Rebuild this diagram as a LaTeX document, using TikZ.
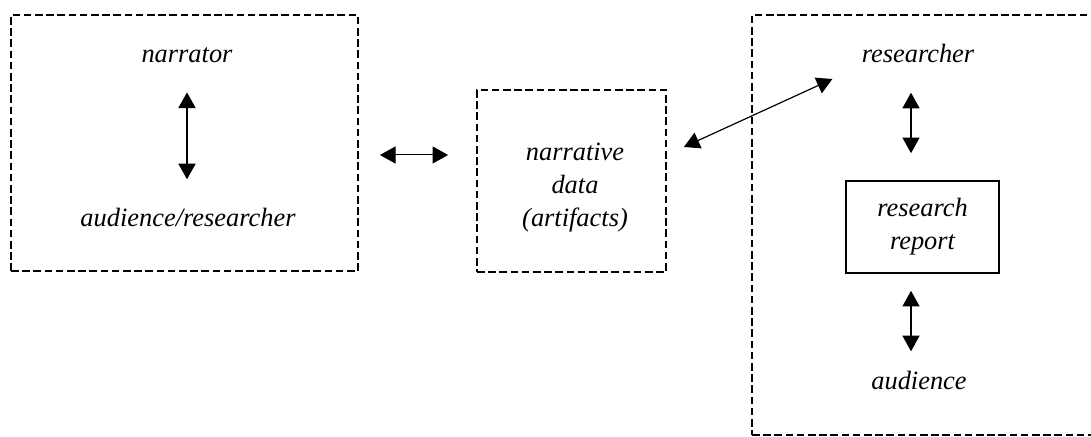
\documentclass[tikz,border=0pt]{standalone}
\usepackage{fontspec}
\setmainfont{Liberation Serif}
\usetikzlibrary{arrows.meta}

\begin{document}
\begin{tikzpicture}[
    x=0.5pt, y=-0.5pt,
    grp/.style={draw, dash pattern=on 3.8pt off 1.8pt, line width=0.9pt, inner sep=0pt},
    lbl/.style={font=\fontsize{13.2}{16.5}\selectfont\itshape, align=center, inner sep=0pt},
    rep/.style={draw, line width=0.8pt, inner sep=0pt, minimum width=76.5pt, minimum height=46pt},
    arr/.style={{Triangle[length=7.8pt,width=8.5pt]}-{Triangle[length=7.8pt,width=8.5pt]}, line width=0.6pt},
]
\useasboundingbox (0,0) rectangle (1091,437);
\clip (0,0) rectangle (1091,437);

% Dashed groups
\node[grp, minimum width=173.5pt, minimum height=128pt] (story) at (184.5,143) {};
\node[grp, minimum width=94.5pt, minimum height=91pt] (artbox) at (571.5,181) {};
\node[grp, minimum width=200pt, minimum height=210pt, anchor=west] (study) at (751,225) {};

% Labels
\node[lbl] (narrator) at (187,55) {narrator};
\node[lbl] (audres) at (188,218) {audience/researcher};
\node[lbl] (data) at (575,188) {narrative\\data\\(artifacts)};
\node[lbl] (researcher) at (918,53) {researcher};
\node[rep, lbl] (report) at (922.5,227) {research\\report};
\node[lbl] (audience) at (919,380) {audience};

% Two-way arrows
\draw[arr, line width=1pt, shorten <=14.75pt, shorten >=14.5pt] (narrator.south) -- ([xshift=-0.5pt]audres.north);
\draw[arr, line width=0.5pt, shorten <=10.5pt, shorten >=14pt] ([yshift=-6pt]story.east) -- ([yshift=13pt]artbox.west);
\draw[arr] ([xshift=8.5pt,yshift=17pt]artbox.east) -- ([xshift=-14.5pt,yshift=-13pt]researcher.west);
\draw[arr, shorten <=15pt, shorten >=13.5pt] ([xshift=-3.5pt]researcher.south) -- ([xshift=-5.75pt]report.north);
\draw[arr, shorten <=8.5pt, shorten >=9.5pt] ([xshift=-5.75pt]report.south) -- ([xshift=-4pt]audience.north);
\end{tikzpicture}
\end{document}
